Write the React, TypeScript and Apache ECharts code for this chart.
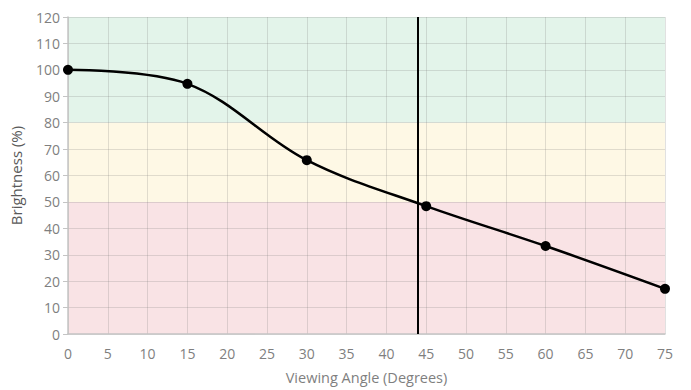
import React, { useEffect, useRef } from "react";
import * as echarts from "echarts";

const angles = [0, 15, 30, 45, 60, 75];
const brightness = [100, 94.7, 65.8, 48.4, 33.3, 17.1];
const cutoffAngle = 44;
const bands = [
  { from: 80, to: 120, color: "#e3f4ea" },
  { from: 50, to: 80, color: "#fef8e5" },
  { from: 0, to: 50, color: "#f9e3e5" },
];

export default function App() {
  const ref = useRef<HTMLDivElement>(null);
  useEffect(() => {
    document.body.style.margin = "0";
    if (!ref.current) return;
    const chart = echarts.init(ref.current, null, { renderer: "svg" });
    const font = "'Open Sans', 'Noto Sans', sans-serif";
    const gridLine = { show: true, lineStyle: { color: "rgba(120,120,120,0.22)", width: 1 } };
    chart.setOption({
      animation: false,
      grid: { left: 63, right: 26, top: 17, bottom: 54 },
      xAxis: {
        type: "value",
        min: 0,
        max: 75,
        interval: 5,
        z: 2,
        name: "Viewing Angle (Degrees)",
        nameLocation: "middle",
        nameGap: 36,
        nameTextStyle: { color: "#7f7f7f", fontSize: 14.5, fontFamily: font },
        axisLine: { show: true, lineStyle: { color: "#c4c4c4", width: 1.5 } },
        axisTick: { show: false },
        axisLabel: { color: "#7f7f7f", fontSize: 14, fontFamily: font, margin: 12 },
        splitLine: gridLine,
      },
      yAxis: {
        type: "value",
        min: 0,
        max: 120,
        interval: 10,
        z: 2,
        name: "Brightness (%)",
        nameLocation: "middle",
        nameGap: 45,
        nameTextStyle: { color: "#595959", fontSize: 15, fontFamily: font },
        axisLine: { show: true, lineStyle: { color: "#c4c4c4", width: 1.5 } },
        axisTick: { show: true, length: 5, lineStyle: { color: "#c4c4c4" } },
        axisLabel: { color: "#7f7f7f", fontSize: 14, fontFamily: font, margin: 8 },
        splitLine: gridLine,
      },
      series: [
        {
          type: "line",
          data: [],
          z: 1,
          markArea: {
            silent: true,
            data: bands.map((b) => [
              { yAxis: b.from, itemStyle: { color: b.color } },
              { yAxis: b.to },
            ]),
          },
        },
        {
          type: "line",
          data: angles.map((a, i) => [a, brightness[i]]),
          smooth: 0.35,
          symbol: "circle",
          symbolSize: 10,
          itemStyle: { color: "#000" },
          lineStyle: { color: "#000", width: 2.5 },
          z: 5,
          markLine: {
            silent: true,
            symbol: "none",
            label: { show: false },
            lineStyle: { color: "#000", width: 2, type: "solid" },
            data: [{ xAxis: cutoffAngle }],
          },
        },
      ],
    });
    return () => chart.dispose();
  }, []);
  return <div ref={ref} style={{ width: 691, height: 390 }} />;
}
